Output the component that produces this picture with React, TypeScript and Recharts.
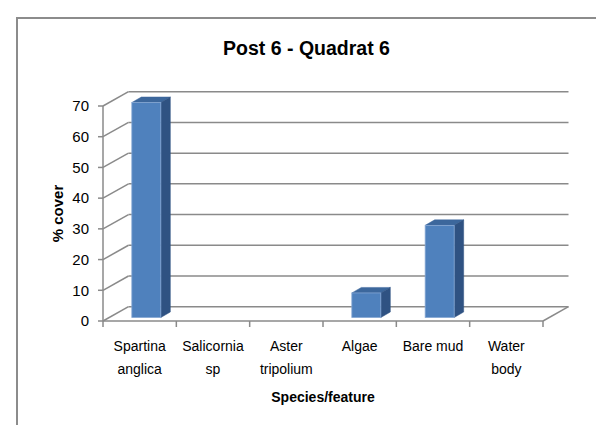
import React from "react";
import { BarChart, Bar, XAxis, YAxis, CartesianGrid } from "recharts";

const categories = ["Spartina anglica", "Salicornia sp", "Aster tripolium", "Algae", "Bare mud", "Water body"];
const categoryLines = [["Spartina", "anglica"], ["Salicornia", "sp"], ["Aster", "tripolium"], ["Algae"], ["Bare mud"], ["Water", "body"]];
const coverValues = [70, 0, 0, 8, 30, 0];
const yTicks = [0, 10, 20, 30, 40, 50, 60, 70];

const data = categories.map((name, i) => ({ name, cover: coverValues[i] }));

const FONT = "'Liberation Sans', Arial, sans-serif";
const GRID = "#8a8a8a";
const WALL_DX = 25.5;
const WALL_DY = 14.3;
const BAR_OFF_DX = 6.5;
const BAR_OFF_DY = 3.5;
const BAR_DEPTH_DX = 9.5;
const BAR_DEPTH_DY = 5.5;
const BAR_FRONT_W = 29;

const gridLine = (p: any) => {
  const { x1, x2, y1, index } = p;
  return (
    <g key={`gl-${index}-${y1}`}>
      <line x1={x1} y1={y1} x2={x1 + WALL_DX} y2={y1 - WALL_DY} stroke={GRID} strokeWidth={1.5} />
      <line x1={x1 + WALL_DX} y1={y1 - WALL_DY} x2={x2 + WALL_DX} y2={y1 - WALL_DY} stroke={GRID} strokeWidth={1.5} />
    </g>
  );
};

const Bar3D = (props: any) => {
  const { x, y, width, height } = props;
  if (!height || height <= 0) return <g />;
  const cx = x + width / 2 + BAR_OFF_DX;
  const l = cx - BAR_FRONT_W / 2;
  const r = cx + BAR_FRONT_W / 2;
  const t = y - BAR_OFF_DY;
  const b = y + height - BAR_OFF_DY;
  const dx = BAR_DEPTH_DX;
  const dy = BAR_DEPTH_DY;
  return (
    <g>
      <polygon points={`${l},${t} ${l + dx},${t - dy} ${r + dx},${t - dy} ${r},${t}`} fill="#3c679c" stroke="#3c679c" strokeWidth={0.5} />
      <polygon points={`${r},${t} ${r + dx},${t - dy} ${r + dx},${b - dy} ${r},${b}`} fill="#2f5282" stroke="#2f5282" strokeWidth={0.5} />
      <rect x={l} y={t} width={BAR_FRONT_W} height={b - t} fill="#4f81bd" stroke="#86a7d3" strokeWidth={0.8} />
    </g>
  );
};

const XTick = (props: any) => {
  const { x, y, index, visibleTicksCount } = props;
  const band = 440 / categories.length;
  const axisY = y - 8;
  const lines = categoryLines[index] || [];
  const last = index === visibleTicksCount - 1;
  return (
    <g>
      <line x1={x - band / 2} y1={axisY} x2={x - band / 2} y2={axisY + 6} stroke={GRID} strokeWidth={1.5} />
      {last && (
        <g>
          <line x1={x + band / 2} y1={axisY} x2={x + band / 2} y2={axisY + 6} stroke={GRID} strokeWidth={1.5} />
          <line x1={x + band / 2} y1={axisY} x2={x + band / 2 + WALL_DX} y2={axisY - WALL_DY} stroke={GRID} strokeWidth={1.5} />
        </g>
      )}
      {lines.map((ln: string, i: number) => (
        <text key={i} x={x} y={axisY + 30 + i * 22.5} textAnchor="middle" fontFamily={FONT} fontSize={14} fill="#000">
          {ln}
        </text>
      ))}
    </g>
  );
};

export default function App() {
  return (
    <div style={{ position: "absolute", left: 0, top: 0, width: 596, height: 425, overflow: "hidden", background: "#fff" }}>
      <div style={{ position: "absolute", left: 16, top: 16.5, width: 700, height: 700, border: "2px solid #8c8c8c" }} />
      <div
        style={{
          position: "absolute",
          left: 0,
          top: 36,
          width: 613,
          textAlign: "center",
          fontFamily: FONT,
          fontWeight: "bold",
          fontSize: 19.5,
          lineHeight: "24px",
          color: "#000",
        }}
      >
        Post 6 - Quadrat 6
      </div>
      <div style={{ position: "absolute", left: 0, top: 0 }}>
        <BarChart width={596} height={425} data={data} margin={{ top: 106, right: 53, bottom: 74, left: 43 }}>
          <CartesianGrid vertical={false} horizontal={gridLine} />
          <XAxis
            dataKey="name"
            interval={0}
            height={30}
            tickLine={false}
            axisLine={{ stroke: GRID, strokeWidth: 1.5 }}
            tick={<XTick />}
            label={{
              value: "Species/feature",
              position: "insideBottom",
              content: (p: any) => {
                const vb = p.viewBox || {};
                return (
                  <text x={vb.x + vb.width / 2} y={402} textAnchor="middle" fontFamily={FONT} fontWeight="bold" fontSize={14} fill="#000">
                    Species/feature
                  </text>
                );
              },
            }}
          />
          <YAxis
            domain={[0, 70]}
            ticks={yTicks}
            interval={0}
            width={60}
            tickSize={5}
            tickMargin={9}
            tickLine={{ stroke: GRID, strokeWidth: 1.5 }}
            axisLine={{ stroke: GRID, strokeWidth: 1.5 }}
            tick={{ fill: "#000", fontSize: 15, fontFamily: FONT }}
            label={{
              value: "% cover",
              content: (p: any) => {
                const vb = p.viewBox || {};
                const cx = vb.x + 14;
                const cy = vb.y + vb.height / 2;
                return (
                  <text x={cx} y={cy} transform={`rotate(-90 ${cx} ${cy})`} textAnchor="middle" dominantBaseline="central" fontFamily={FONT} fontWeight="bold" fontSize={15} fill="#000">
                    % cover
                  </text>
                );
              },
            }}
          />
          <Bar dataKey="cover" shape={Bar3D} isAnimationActive={false} />
        </BarChart>
      </div>
    </div>
  );
}
